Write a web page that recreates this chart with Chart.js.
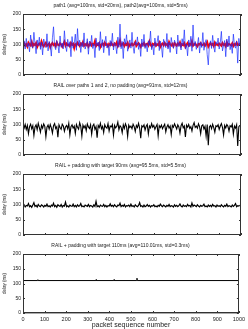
<!DOCTYPE html>
<html>
<head>
<meta charset="utf-8">
<script src="https://cdn.jsdelivr.net/npm/chart.js@4"></script>
<style>
  html, body { margin: 0; padding: 0; background: #fff; }
  body { width: 248px; height: 329px; position: relative; overflow: hidden; }
  canvas { position: absolute; left: 0; }
</style>
</head>
<body>
<canvas id="p1" width="248" height="80" style="top:0px"></canvas>
<canvas id="p2" width="248" height="80" style="top:80px"></canvas>
<canvas id="p3" width="248" height="80" style="top:160px"></canvas>
<canvas id="p4" width="248" height="89" style="top:240px"></canvas>
<script>
// one sample every 5 packets
const seqStep = 5;
const xTicks = [0, 100, 200, 300, 400, 500, 600, 700, 800, 900, 1000];
const yTicks = [0, 50, 100, 150, 200];

const path1Delay = [
  98, 112, 85, 120, 92, 104, 76, 131, 95, 88, 140, 102, 70, 115, 96, 124, 84, 108, 66, 118,
  101, 90, 135, 79, 110, 97, 62, 122, 158, 94, 83, 113, 100, 72, 128, 91, 105, 86, 145, 99,
  77, 117, 93, 109, 60, 126, 88, 103, 134, 81, 152, 96, 114, 74, 107, 92, 138, 85, 99, 119,
  68, 111, 94, 130, 87, 102, 57, 121, 97, 108, 80, 142, 90, 116, 73, 104, 127, 89, 100, 64,
  113, 95, 137, 82, 106, 98, 70, 124, 91, 167, 86, 110, 54, 119, 101, 132, 78, 96, 115, 88,
  140, 93, 71, 109, 99, 125, 84, 105, 61, 118, 92, 133, 87, 103, 76, 112, 97, 144, 83, 100,
  66, 121, 94, 107, 129, 80, 111, 96, 58, 117, 102, 90, 136, 85, 108, 74, 123, 99, 88, 114,
  104, 69, 131, 93, 106, 82, 119, 97, 148, 86, 101, 63, 115, 92, 127, 78, 164, 95, 110, 84,
  99, 123, 72, 108, 90, 139, 81, 104, 116, 67, 33, 98, 112, 87, 130, 94, 75, 109, 101, 121,
  85, 106, 143, 79, 96, 113, 60, 118, 92, 128, 83, 102, 71, 134, 97, 88, 111, 39, 120, 95
];
const path2Delay = [
  99, 104, 96, 101, 93, 106, 100, 97, 108, 95, 102, 98, 105, 92, 100, 103, 97, 110, 99, 94,
  101, 106, 96, 99, 103, 91, 100, 105, 98, 102, 95, 107, 99, 97, 104, 100, 93, 101, 109, 96,
  103, 98, 100, 94, 105, 99, 102, 88, 101, 97, 106, 100, 95, 103, 99, 108, 96, 101, 98, 104,
  93, 100, 105, 97, 102, 99, 111, 95, 101, 98, 104, 92, 100, 103, 97, 106, 99, 101, 94, 102,
  98, 105, 100, 96, 103, 99, 107, 94, 101, 113, 97, 100, 104, 95, 102, 99, 106, 93, 100, 98,
  103, 97, 101, 108, 95, 100, 104, 98, 92, 102, 99, 105, 96, 101, 103, 97, 110, 100, 94, 102,
  99, 104, 96, 101, 98, 106, 93, 100, 103, 97, 105, 99, 101, 95, 108, 100, 97, 102, 94, 104,
  100, 96, 103, 99, 107, 95, 101, 98, 104, 92, 100, 105, 97, 102, 99, 110, 96, 101, 103, 98,
  94, 102, 100, 105, 97, 99, 103, 96, 101, 108, 93, 100, 104, 98, 102, 95, 106, 99, 101, 97,
  103, 100, 96, 105, 99, 101, 94, 107, 98, 102, 100, 97, 104, 95, 101, 99, 106, 98, 100, 103
];
const railNoPad = [
  95, 88, 100, 84, 97, 70, 93, 101, 86, 96, 64, 92, 99, 83, 104, 90, 75, 97, 88, 102,
  94, 60, 91, 98, 85, 100, 89, 72, 96, 103, 87, 93, 58, 99, 90, 84, 101, 95, 78, 92,
  97, 86, 104, 66, 93, 99, 88, 95, 71, 100, 91, 85, 106, 94, 62, 98, 89, 96, 80, 102,
  92, 87, 99, 68, 95, 101, 84, 93, 57, 97, 90, 104, 86, 94, 74, 99, 91, 88, 103, 79,
  95, 92, 100, 65, 97, 89, 94, 108, 83, 96, 91, 73, 99, 87, 102, 93, 61, 98, 90, 95,
  86, 101, 93, 77, 97, 90, 104, 88, 55, 96, 92, 99, 82, 94, 100, 69, 95, 89, 103, 91,
  97, 84, 93, 100, 63, 96, 90, 98, 86, 94, 101, 76, 92, 99, 88, 95, 67, 97, 91, 102,
  94, 85, 99, 92, 72, 96, 104, 89, 95, 59, 98, 91, 100, 87, 93, 79, 97, 106, 90, 95,
  88, 102, 93, 70, 96, 99, 85, 94, 62, 100, 32, 92, 97, 86, 101, 90, 75, 96, 93, 99,
  84, 95, 103, 91, 66, 97, 89, 100, 94, 78, 96, 92, 101, 68, 95, 88, 99, 30, 93, 97
];
const railPad90 = [
  94, 99, 92, 97, 95, 103, 93, 96, 91, 98, 106, 94, 97, 92, 100, 95, 93, 99, 96, 92,
  97, 94, 101, 93, 96, 92, 98, 95, 104, 93, 97, 91, 99, 96, 94, 100, 92, 97, 95, 108,
  93, 96, 92, 98, 95, 94, 101, 93, 97, 92, 99, 94, 96, 103, 93, 95, 92, 98, 96, 94,
  100, 93, 97, 95, 92, 99, 94, 110, 93, 96, 92, 98, 95, 94, 100, 93, 97, 92, 96, 95,
  102, 94, 97, 93, 99, 95, 92, 98, 96, 104, 93, 97, 94, 100, 92, 96, 95, 98, 93, 101,
  94, 96, 92, 99, 95, 93, 97, 106, 94, 96, 92, 98, 93, 95, 100, 94, 97, 92, 96, 95,
  99, 93, 95, 92, 97, 94, 101, 96, 93, 98, 95, 92, 97, 94, 100, 93, 96, 95, 92, 99,
  94, 97, 93, 96, 102, 95, 92, 98, 94, 96, 93, 100, 95, 97, 92, 105, 94, 98, 96, 93,
  99, 95, 92, 97, 94, 96, 101, 93, 95, 92, 98, 94, 97, 93, 100, 95, 96, 92, 98, 94,
  96, 93, 99, 95, 92, 97, 94, 101, 93, 96, 95, 92, 98, 94, 97, 103, 93, 96, 95, 98
];
// padding to 110ms: almost flat, a few small bumps
const rail110Seq   = [0, 68, 69, 70, 338, 339, 340, 421, 422, 423, 527, 528, 529, 1000];
const rail110Delay = [110, 110, 113, 110, 110, 113, 110, 110, 113, 110, 110, 118, 110, 110];
const lostSeq   = [0, 1000];
const lostDelay = [0, 0];

const FONT = "'Liberation Sans', Arial, sans-serif";

function series(vals) {
  return vals.map((v, i) => ({ x: i * seqStep, y: v }));
}
function pairs(xs, ys) {
  return xs.map((x, i) => ({ x: x, y: ys[i] }));
}

// matlab-like box with inward ticks on all sides
const frame = {
  id: 'frame',
  afterDatasetsDraw(chart) {
    const { ctx, chartArea: a, scales: { x, y } } = chart;
    ctx.save();
    ctx.strokeStyle = '#333';
    ctx.lineWidth = 1;
    ctx.strokeRect(Math.round(a.left) + 0.5, Math.round(a.top) + 0.5,
                   Math.round(a.width) - 1, Math.round(a.height) - 1);
    ctx.beginPath();
    xTicks.forEach(v => {
      const px = Math.round(x.getPixelForValue(v)) + 0.5;
      ctx.moveTo(px, a.bottom); ctx.lineTo(px, a.bottom - 2);
      ctx.moveTo(px, a.top); ctx.lineTo(px, a.top + 2);
    });
    yTicks.forEach(v => {
      const py = Math.round(y.getPixelForValue(v)) + 0.5;
      ctx.moveTo(a.left, py); ctx.lineTo(a.left + 2, py);
      ctx.moveTo(a.right, py); ctx.lineTo(a.right - 2, py);
    });
    ctx.stroke();
    ctx.restore();
  }
};

function makePanel(id, title, datasets, lastPanel) {
  return new Chart(document.getElementById(id), {
    type: 'line',
    data: { datasets: datasets },
    options: {
      responsive: false,
      animation: false,
      devicePixelRatio: 1,
      layout: { padding: { left: 0, right: 7, top: 0, bottom: 0 } },
      elements: { point: { radius: 0 }, line: { tension: 0 } },
      plugins: {
        legend: { display: false },
        tooltip: { enabled: false },
        title: {
          display: true,
          text: title,
          color: '#222',
          font: { family: FONT, size: 5, weight: 'normal' },
          padding: { top: 3, bottom: 5 }
        }
      },
      scales: {
        x: {
          type: 'linear',
          min: 0, max: 1000,
          afterBuildTicks: s => { s.ticks = xTicks.map(v => ({ value: v })); },
          grid: { display: false, drawTicks: false },
          border: { display: false },
          ticks: {
            display: lastPanel,
            color: '#222',
            padding: 3,
            maxRotation: 0,
            font: { family: FONT, size: 5.5 },
            callback: v => String(v)
          },
          title: {
            display: lastPanel,
            text: 'packet sequence number',
            color: '#222',
            padding: 0,
            font: { family: FONT, size: 7 }
          },
          afterFit: s => { s.height = lastPanel ? 16 : 5; }
        },
        y: {
          min: 0, max: 200,
          afterBuildTicks: s => { s.ticks = yTicks.map(v => ({ value: v })); },
          grid: { display: false, drawTicks: false },
          border: { display: false },
          ticks: {
            color: '#222',
            padding: 2,
            font: { family: FONT, size: 5 },
            callback: v => String(v)
          },
          title: {
            display: true,
            text: 'delay (ms)',
            color: '#222',
            padding: { top: 2, bottom: 0 },
            font: { family: FONT, size: 4.5 }
          },
          afterFit: s => { s.width = 23; }
        }
      }
    },
    plugins: [frame]
  });
}

makePanel('p1', 'path1 (avg=100ms, std=20ms), path2(avg=100ms, std=5ms)', [
  { label: 'path1', data: series(path1Delay), borderColor: 'rgba(20,40,255,0.75)', borderWidth: 0.9 },
  { label: 'path2', data: series(path2Delay), borderColor: '#ff0000', borderWidth: 2 }
], false);

makePanel('p2', 'RAIL over paths 1 and 2, no padding (avg=91ms, std=12ms)', [
  { label: 'RAIL', data: series(railNoPad), borderColor: '#000', borderWidth: 1.1 }
], false);

makePanel('p3', 'RAIL + padding with target 90ms (avg=95.5ms, std=5.5ms)', [
  { label: 'RAIL 90', data: series(railPad90), borderColor: '#000', borderWidth: 1.2 }
], false);

makePanel('p4', 'RAIL + padding with target 110ms (avg=110.01ms, std=0.3ms)', [
  { label: 'lost', data: pairs(lostSeq, lostDelay), borderColor: '#aaa', borderWidth: 2, clip: false },
  { label: 'RAIL 110', data: pairs(rail110Seq, rail110Delay), borderColor: '#000', borderWidth: 1 }
], true);
</script>
</body>
</html>
